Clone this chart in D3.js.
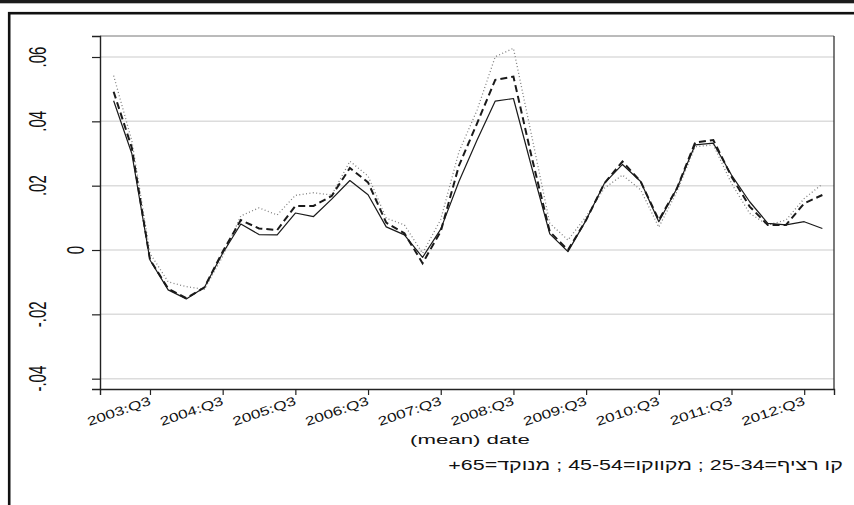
<!DOCTYPE html>
<html>
<head>
<meta charset="utf-8">
<script src="https://cdn.jsdelivr.net/npm/d3@7"></script>
<style>
  html, body { margin: 0; padding: 0; background: #fff; }
  svg { display: block; }
  text { font-family: "Liberation Sans", Arial, sans-serif; fill: #111; }
</style>
</head>
<body>
<svg id="chart" width="854" height="505"></svg>
<script>
// ---------- data ----------
const quarters = [
  "2003:Q1","2003:Q2","2003:Q3","2003:Q4","2004:Q1","2004:Q2","2004:Q3","2004:Q4",
  "2005:Q1","2005:Q2","2005:Q3","2005:Q4","2006:Q1","2006:Q2","2006:Q3","2006:Q4",
  "2007:Q1","2007:Q2","2007:Q3","2007:Q4","2008:Q1","2008:Q2","2008:Q3","2008:Q4",
  "2009:Q1","2009:Q2","2009:Q3","2009:Q4","2010:Q1","2010:Q2","2010:Q3","2010:Q4",
  "2011:Q1","2011:Q2","2011:Q3","2011:Q4","2012:Q1","2012:Q2","2012:Q3","2012:Q4"
];
// solid line: ages 25-34
const age25_34 = [
  0.0464, 0.0300, -0.0031, -0.0124, -0.0152, -0.0116, -0.0010, 0.0081,
  0.0048, 0.0047, 0.0115, 0.0104, 0.0158, 0.0216, 0.0172, 0.0072,
  0.0047, -0.0023, 0.0065, 0.0213, 0.0342, 0.0463, 0.0471, 0.0258,
  0.0050, -0.0005, 0.0093, 0.0207, 0.0266, 0.0213, 0.0088, 0.0192,
  0.0327, 0.0332, 0.0233, 0.0150, 0.0083, 0.0078, 0.0088, 0.0067
];
// dashed line: ages 45-54
const age45_54 = [
  0.0492, 0.0318, -0.0030, -0.0120, -0.0150, -0.0116, -0.0005, 0.0093,
  0.0067, 0.0062, 0.0137, 0.0137, 0.0168, 0.0255, 0.0210, 0.0085,
  0.0052, -0.0041, 0.0058, 0.0262, 0.0394, 0.0529, 0.0539, 0.0290,
  0.0057, 0.0000, 0.0093, 0.0207, 0.0275, 0.0213, 0.0093, 0.0192,
  0.0334, 0.0342, 0.0228, 0.0135, 0.0078, 0.0078, 0.0145, 0.0171
];
// dotted line: ages 65+
const age65plus = [
  0.0542, 0.0340, -0.0010, -0.0099, -0.0114, -0.0122, -0.0020, 0.0106,
  0.0131, 0.0109, 0.0170, 0.0178, 0.0171, 0.0276, 0.0230, 0.0099,
  0.0078, -0.0010, 0.0095, 0.0305, 0.0435, 0.0601, 0.0627, 0.0356,
  0.0083, 0.0031, 0.0104, 0.0192, 0.0233, 0.0187, 0.0071, 0.0182,
  0.0321, 0.0327, 0.0207, 0.0114, 0.0078, 0.0093, 0.0160, 0.0205
];
const xTickLabels = ["2003:Q3","2004:Q3","2005:Q3","2006:Q3","2007:Q3","2008:Q3","2009:Q3","2010:Q3","2011:Q3","2012:Q3"];
const yTickValues = [-0.04, -0.02, 0, 0.02, 0.04, 0.06];
const yTickLabels = ["-.04", "-.02", "0", ".02", ".04", ".06"];
const xTitle = "(mean) date";
const legendText = "קו רציף=25-34 ; מקווקו=45-54 ; מנוקד=65+";

// ---------- layout ----------
const svg = d3.select("#chart");
const plot = { left: 100, right: 834, top: 36, bottom: 389 };

const x = d3.scaleLinear().domain([-0.75, 39.64]).range([plot.left, plot.right]);
const y = d3.scaleLinear().domain([-0.04321, 0.06653]).range([plot.bottom, plot.top]);

// top dark band and outer frame
svg.append("rect").attr("x", 0).attr("y", 0).attr("width", 854).attr("height", 3.3).attr("fill", "#1c1c1c");
svg.append("rect").attr("x", 9.2).attr("y", 13.2).attr("width", 900).attr("height", 600)
  .attr("fill", "none").attr("stroke", "#111").attr("stroke-width", 2.6);

// gridlines
svg.append("g").selectAll("line").data(yTickValues).join("line")
  .attr("x1", plot.left).attr("x2", plot.right)
  .attr("y1", d => y(d)).attr("y2", d => y(d))
  .attr("stroke", "#dcdcdc").attr("stroke-width", 1.5);

// plot border (top grey, right dark)
svg.append("line").attr("x1", plot.left).attr("x2", plot.right).attr("y1", plot.top).attr("y2", plot.top)
  .attr("stroke", "#777").attr("stroke-width", 1);
svg.append("line").attr("x1", plot.right).attr("x2", plot.right).attr("y1", plot.top).attr("y2", plot.bottom)
  .attr("stroke", "#222").attr("stroke-width", 1.2);

// y axis
const yAxis = d3.axisLeft(y).tickValues(yTickValues).tickSize(8).tickFormat("");
const gy = svg.append("g").attr("transform", `translate(${plot.left},0)`).call(yAxis);
gy.select(".domain").attr("stroke", "#222").attr("stroke-width", 1.4);
gy.selectAll(".tick line").attr("stroke", "#222").attr("stroke-width", 1.2);

// y tick labels (rotated, horizontally stretched)
const ySize = 15, yStretch = 1.6;
yTickValues.forEach((v, i) => {
  const lbl = yTickLabels[i];
  const cx = lbl === "0" ? 75 : 37.5;
  const bx = cx + 0.358 * ySize * yStretch;
  svg.append("text")
    .attr("transform", `translate(${bx},${y(v)}) scale(${yStretch},1) rotate(-90)`)
    .attr("text-anchor", "middle")
    .attr("font-size", ySize)
    .text(lbl);
});

// x axis
const xTickIdx = xTickLabels.map(l => quarters.indexOf(l));
const xAxis = d3.axisBottom(x).tickValues(xTickIdx).tickSize(6).tickFormat("");
const gx = svg.append("g").attr("transform", `translate(0,${plot.bottom})`).call(xAxis);
gx.select(".domain").attr("stroke", "#222").attr("stroke-width", 1.4);
gx.selectAll(".tick line").attr("stroke", "#222").attr("stroke-width", 1.2);

// x tick labels (angled, wide glyphs)
const xSize = 12.5, xStretch = 1.38, xAngle = -19;
xTickIdx.forEach((qi, i) => {
  svg.append("text")
    .attr("transform", `translate(${x(qi) + 1.5},${404.5}) rotate(${xAngle}) scale(${xStretch},1)`)
    .attr("text-anchor", "end")
    .attr("font-size", xSize)
    .text(xTickLabels[i]);
});

// horizontal stretched text helper: fit to target left/width
function fitText(str, left, width, baseline, size, rtl) {
  const t = svg.append("text").attr("font-size", size).attr("x", 0).attr("y", 0).text(str);
  if (rtl) t.attr("direction", "rtl").style("direction", "rtl").attr("text-anchor", "start");
  const bb = t.node().getBBox();
  const k = width / bb.width;
  t.attr("transform", `translate(${left - bb.x * k},${baseline}) scale(${k},1)`);
  return t;
}
fitText(xTitle, 410, 120, 444, 12.8, false);
fitText(legendText, 448, 395, 470, 15, true);

// ---------- series ----------
const line = d3.line().x((d, i) => x(i)).y(d => y(d));

svg.append("path").datum(age65plus).attr("d", line)
  .attr("fill", "none").attr("stroke", "#808080").attr("stroke-width", 1.3)
  .attr("stroke-dasharray", "1,2.4").attr("stroke-linejoin", "round");

svg.append("path").datum(age45_54).attr("d", line)
  .attr("fill", "none").attr("stroke", "#1a1a1a").attr("stroke-width", 2)
  .attr("stroke-dasharray", "7,4");

svg.append("path").datum(age25_34).attr("d", line)
  .attr("fill", "none").attr("stroke", "#1a1a1a").attr("stroke-width", 1.2)
  .attr("stroke-linejoin", "round");
</script>
</body>
</html>
